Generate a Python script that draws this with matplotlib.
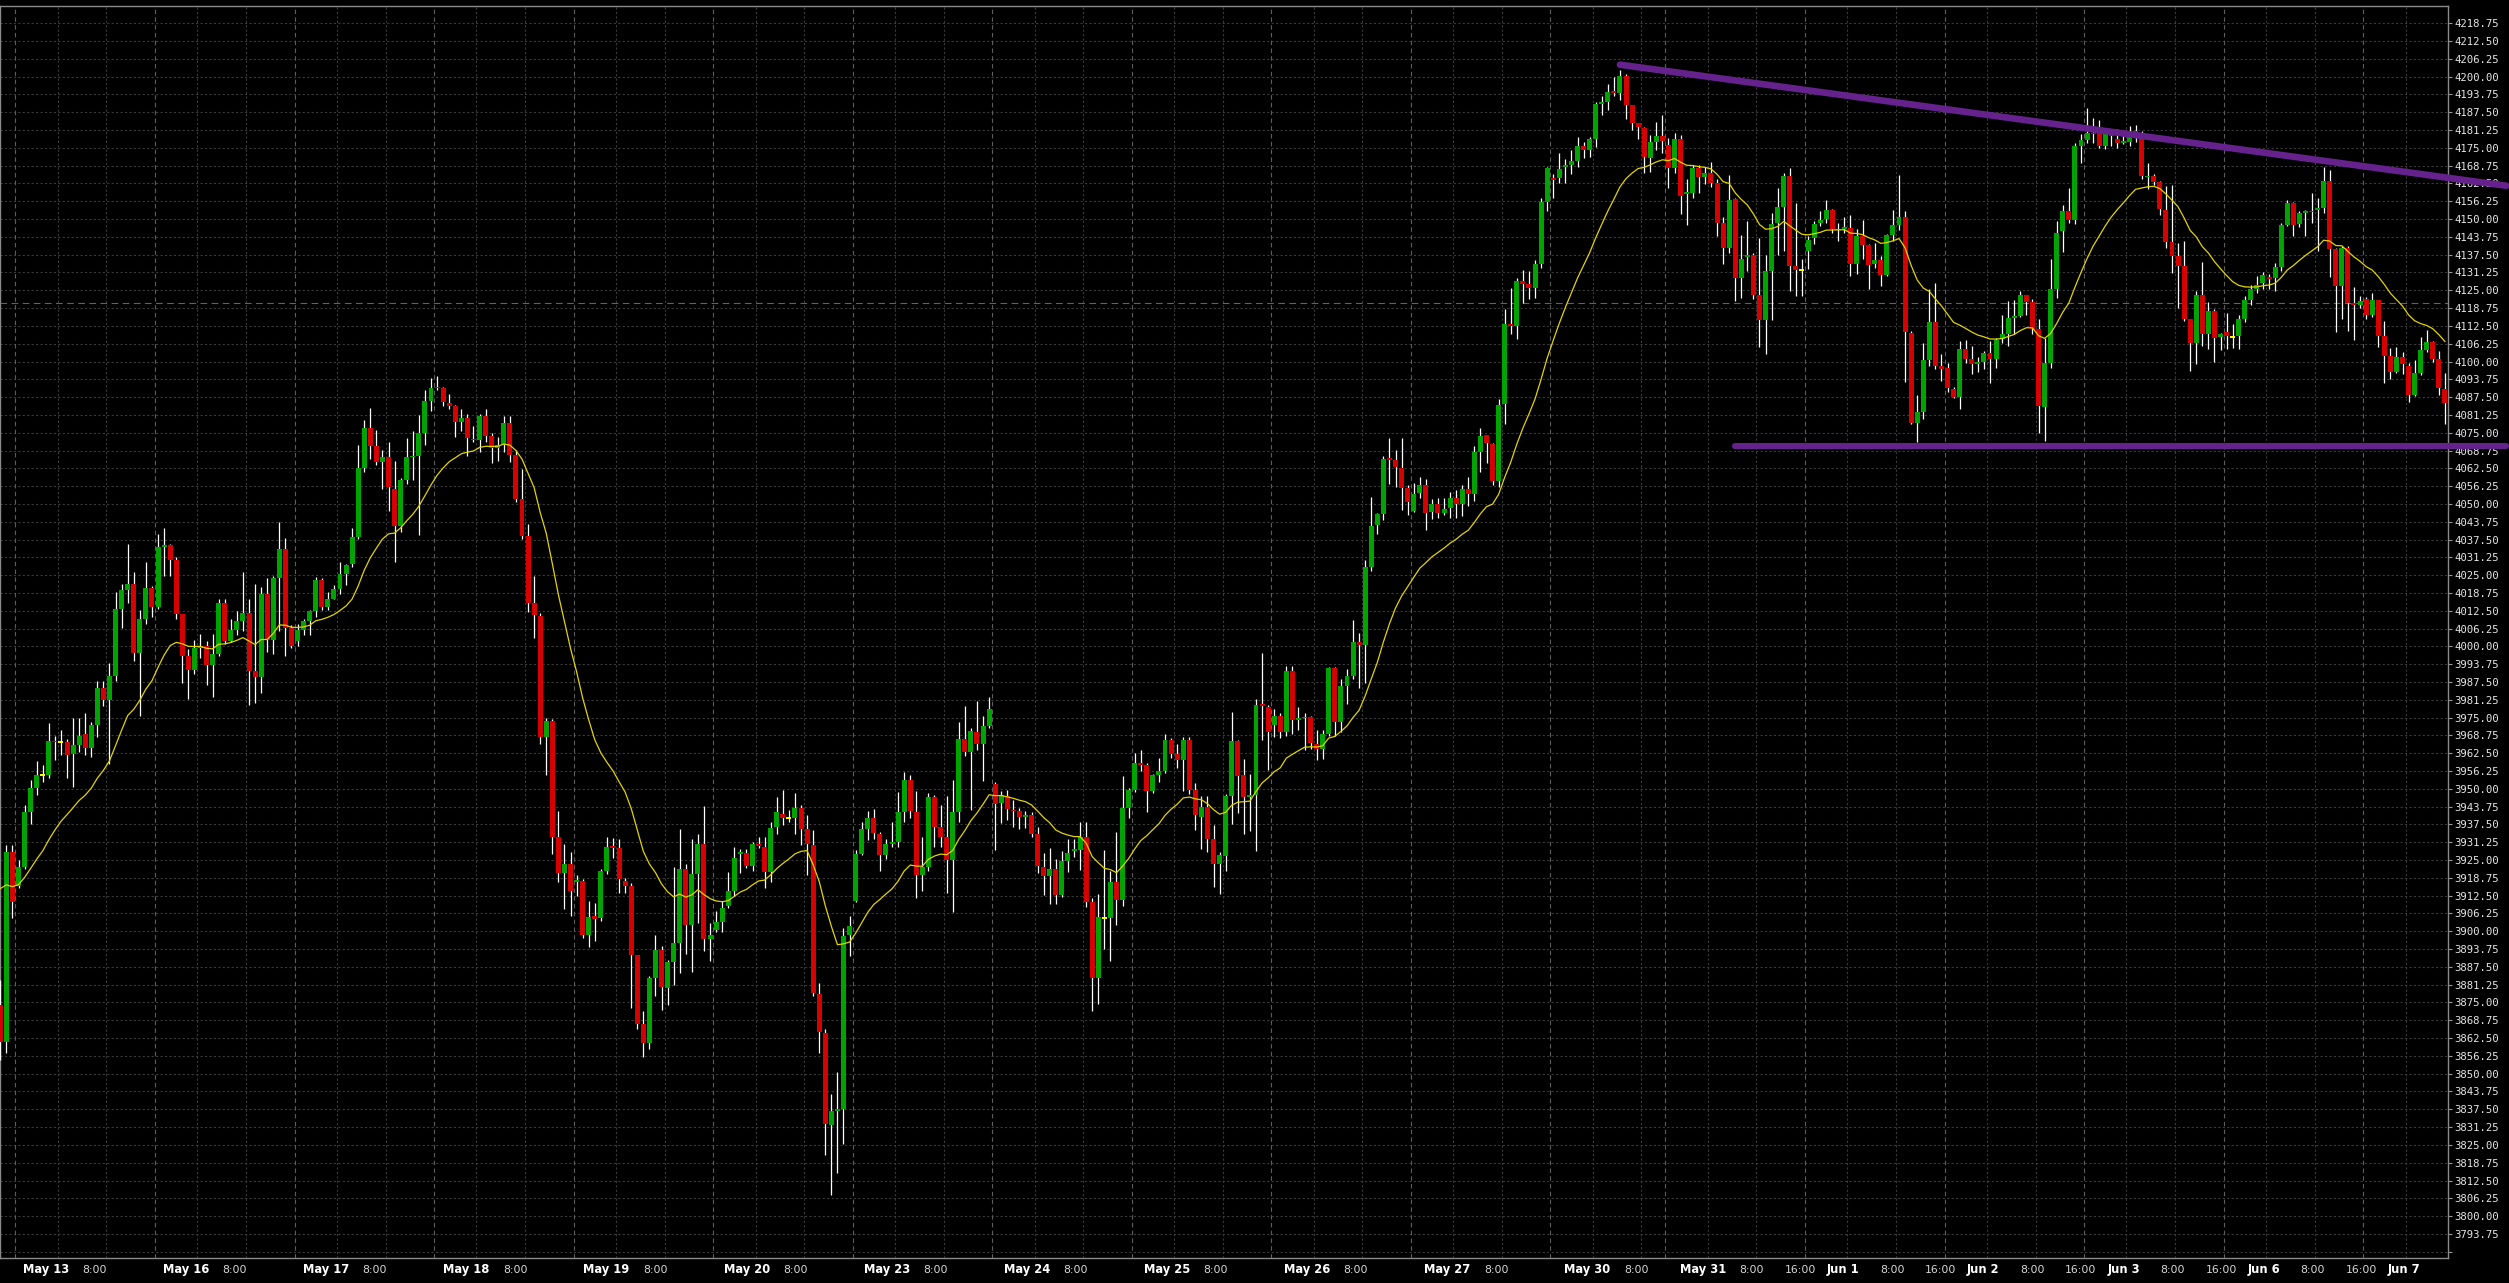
import numpy as np
import matplotlib.pyplot as plt

# hourly ES bars (May 12 evening .. Jun 7)
opens = [
    3874.1, 3861.2, 3927.8, 3916.0, 3922.5, 3941.8, 3950.4, 3954.7, 3954.7, 3966.8,
    3966.3, 3966.3, 3962.3, 3965.5, 3969.2, 3964.4, 3972.5, 3985.3, 3981.3, 3989.7,
    4013.1, 4019.7, 4021.9, 3997.7, 4009.5, 4020.5, 4014.0, 4035.0, 4035.6, 4030.5,
    4011.5, 3996.6, 3991.8, 3999.4, 4000.3, 3993.4, 3997.4, 4015.2, 4002.0, 4005.8,
    4009.0, 4011.6, 3991.3, 3989.4, 4018.4, 4002.3, 4024.0, 4034.2, 4006.6, 4002.0,
    4005.8, 4009.0, 4012.3, 4023.2, 4013.9, 4016.8, 4020.0, 4025.5, 4028.9, 4038.5,
    4062.5, 4076.7, 4070.4, 4064.8, 4066.4, 4055.4, 4042.2, 4058.3, 4066.4, 4066.7,
    4074.8, 4086.1, 4091.2, 4090.6, 4085.3, 4084.5, 4078.8, 4080.3, 4072.9, 4072.4,
    4080.9, 4074.0, 4069.6, 4070.6, 4078.4, 4067.1, 4051.8, 4038.7, 4015.2, 4010.8,
    3968.3, 3973.9, 3933.2, 3920.4, 3923.6, 3917.3, 3917.8, 3898.7, 3905.4, 3904.5,
    3921.3, 3930.0, 3929.3, 3917.8, 3916.0, 3891.6, 3867.3, 3860.6, 3883.6, 3893.4,
    3880.1, 3889.3, 3896.0, 3921.9, 3902.2, 3920.1, 3930.7, 3897.4, 3900.4, 3903.3,
    3908.8, 3914.1, 3927.2, 3927.5, 3923.0, 3930.7, 3929.7, 3920.8, 3936.7, 3941.3,
    3939.8, 3939.9, 3943.1, 3936.0, 3930.2, 3878.0, 3864.2, 3831.9, 3836.9, 3837.6,
    3898.8, 3910.7, 3927.2, 3936.0, 3939.6, 3934.3, 3926.7, 3930.7, 3931.4, 3941.7,
    3953.2, 3941.7, 3919.6, 3922.6, 3947.0, 3936.7, 3933.2, 3924.9, 3941.7, 3967.4,
    3962.9, 3970.0, 3965.6, 3972.2, 3951.8, 3945.1, 3947.6, 3942.7, 3942.3, 3940.0,
    3940.7, 3934.0, 3922.4, 3919.4, 3921.7, 3912.6, 3924.7, 3928.2, 3928.5, 3933.0,
    3910.1, 3883.5, 3904.6, 3904.6, 3917.4, 3910.8, 3943.4, 3949.7, 3959.0, 3958.4,
    3949.3, 3954.8, 3956.2, 3967.3, 3962.2, 3960.1, 3967.0, 3949.7, 3940.0, 3943.7,
    3932.3, 3923.7, 3926.5, 3947.6, 3966.8, 3954.8, 3947.2, 3947.9, 3979.5, 3978.8,
    3972.3, 3975.4, 3969.8, 3991.3, 3974.3, 3974.8, 3975.1, 3965.9, 3964.0, 3969.1,
    3992.3, 3973.3, 3986.2, 3989.5, 4001.7, 4000.4, 4027.8, 4042.7, 4046.6, 4065.9,
    4065.3, 4062.5, 4055.6, 4047.5, 4053.8, 4056.6, 4047.3, 4050.0, 4046.8, 4048.6,
    4052.0, 4050.0, 4055.2, 4053.5, 4068.3, 4074.1, 4071.1, 4057.9, 4085.1, 4113.0,
    4112.5, 4128.2, 4127.3, 4125.9, 4134.3, 4156.1, 4164.4, 4164.4, 4168.4, 4168.9,
    4170.5, 4175.7, 4174.1, 4178.0, 4190.5, 4191.1, 4194.9, 4194.4, 4200.3, 4190.2,
    4183.6, 4181.8, 4171.3, 4177.1, 4179.2, 4175.9, 4167.9, 4178.0, 4158.8, 4159.3,
    4167.8, 4164.9, 4166.1, 4162.6, 4148.8, 4139.9, 4157.0, 4129.4, 4136.6, 4137.5,
    4123.5, 4114.6, 4131.7, 4148.6, 4154.4, 4165.2, 4133.4, 4132.0, 4138.7, 4143.4,
    4148.6, 4150.0, 4153.2, 4146.0, 4146.5, 4146.9, 4134.3, 4143.9, 4140.8, 4134.3,
    4135.7, 4130.5, 4144.4, 4147.8, 4150.6, 4109.9, 4078.4, 4082.3, 4100.6, 4113.7,
    4098.5, 4097.6, 4090.3, 4087.7, 4104.3, 4101.0, 4099.3, 4099.8, 4103.1, 4101.0,
    4108.0, 4109.8, 4115.3, 4115.9, 4123.2, 4120.8, 4111.5, 4084.1, 4099.6, 4125.5,
    4145.8, 4152.8, 4149.6, 4175.8, 4177.9, 4180.3, 4180.3, 4175.8, 4179.7, 4178.2,
    4176.8, 4177.0, 4180.9, 4180.3, 4164.7, 4165.1, 4163.0, 4153.1, 4141.9, 4137.0,
    4133.5, 4115.0, 4106.6, 4123.5, 4109.5, 4117.7, 4108.7, 4110.3, 4108.6, 4108.9,
    4115.0, 4121.5, 4125.5, 4127.4, 4129.7, 4129.4, 4133.2, 4147.8, 4155.5, 4148.1,
    4152.0, 4152.8, 4153.1, 4154.0, 4163.3, 4139.6, 4126.5, 4139.9, 4120.6, 4119.7,
    4121.8, 4116.5, 4121.5, 4109.1, 4101.9, 4096.3, 4101.7, 4098.6, 4088.4, 4095.8,
    4104.2, 4106.8, 4101.0, 4090.4,
]

highs = [
    3883.0, 3930.2, 3930.2, 3924.9, 3944.2, 3953.1, 3959.6, 3958.4, 3973.0, 3968.4,
    3970.8, 3967.6, 3974.9, 3974.9, 3976.5, 3973.3, 3987.8, 3987.8, 3994.2, 4019.2,
    4021.9, 4035.8, 4026.1, 4012.7, 4029.7, 4021.3, 4039.3, 4041.7, 4036.1, 4031.3,
    4011.5, 3999.0, 4002.3, 4004.2, 4002.0, 4004.2, 4016.8, 4016.8, 4009.5, 4012.3,
    4026.1, 4016.8, 4021.9, 4020.8, 4024.0, 4024.8, 4043.8, 4038.0, 4007.4, 4007.9,
    4009.5, 4012.7, 4024.5, 4024.0, 4019.2, 4021.6, 4029.7, 4028.9, 4041.7, 4070.8,
    4079.6, 4083.6, 4076.1, 4069.1, 4071.9, 4065.1, 4059.0, 4073.2, 4075.6, 4081.2,
    4090.1, 4094.1, 4094.9, 4091.2, 4088.5, 4084.8, 4083.2, 4081.6, 4077.2, 4081.6,
    4083.2, 4074.8, 4073.5, 4081.0, 4081.0, 4068.8, 4062.1, 4043.0, 4024.6, 4011.6,
    3975.0, 3974.5, 3942.1, 3930.7, 3927.9, 3919.6, 3918.3, 3910.7, 3909.8, 3921.9,
    3933.2, 3932.9, 3932.5, 3918.7, 3916.9, 3891.6, 3872.1, 3884.2, 3898.7, 3894.8,
    3889.8, 3922.6, 3936.0, 3923.6, 3932.5, 3934.3, 3943.8, 3902.8, 3907.2, 3910.7,
    3920.8, 3929.7, 3929.0, 3929.0, 3931.4, 3933.2, 3933.2, 3938.2, 3947.0, 3949.7,
    3942.6, 3948.4, 3944.3, 3940.8, 3935.5, 3881.9, 3865.6, 3842.9, 3850.5, 3901.3,
    3905.4, 3928.4, 3938.2, 3942.1, 3942.9, 3935.0, 3932.5, 3938.5, 3948.8, 3955.9,
    3955.0, 3949.1, 3933.2, 3948.4, 3947.9, 3944.3, 3947.4, 3953.2, 3973.6, 3978.9,
    3971.4, 3980.7, 3975.7, 3982.4, 3952.5, 3949.3, 3949.7, 3946.2, 3943.2, 3942.1,
    3941.8, 3936.5, 3927.5, 3929.2, 3925.4, 3928.2, 3932.3, 3932.3, 3938.2, 3938.2,
    3911.8, 3913.2, 3928.5, 3921.2, 3934.7, 3954.5, 3950.4, 3962.6, 3963.6, 3959.0,
    3955.2, 3960.8, 3969.1, 3967.7, 3965.6, 3968.1, 3968.1, 3952.1, 3947.6, 3947.6,
    3937.2, 3927.9, 3948.3, 3977.0, 3967.3, 3960.4, 3955.2, 3981.6, 3997.6, 3979.5,
    3977.9, 3976.7, 3993.1, 3993.1, 3978.8, 3976.7, 3975.6, 3970.5, 3970.5, 3992.7,
    3992.7, 3988.6, 3992.0, 4009.4, 4004.8, 4030.2, 4052.4, 4046.8, 4066.7, 4073.2,
    4069.0, 4073.2, 4056.6, 4057.5, 4059.3, 4058.9, 4051.7, 4052.0, 4052.0, 4054.2,
    4054.8, 4056.6, 4059.3, 4070.5, 4076.7, 4074.1, 4071.5, 4086.8, 4118.6, 4125.9,
    4129.4, 4132.2, 4131.7, 4135.7, 4157.3, 4168.4, 4165.7, 4173.1, 4171.0, 4174.1,
    4178.8, 4177.1, 4178.8, 4191.1, 4193.3, 4197.5, 4199.8, 4202.4, 4201.0, 4190.2,
    4183.6, 4182.3, 4179.4, 4184.1, 4186.7, 4178.3, 4180.1, 4179.4, 4164.0, 4168.9,
    4168.9, 4168.4, 4170.1, 4164.0, 4150.9, 4165.4, 4157.3, 4144.4, 4149.2, 4138.2,
    4143.4, 4137.5, 4152.1, 4160.9, 4166.1, 4167.8, 4155.6, 4136.1, 4143.9, 4149.2,
    4152.7, 4156.7, 4153.5, 4148.6, 4150.9, 4151.4, 4146.5, 4149.7, 4141.3, 4141.6,
    4137.0, 4144.8, 4153.2, 4165.4, 4152.7, 4110.7, 4088.1, 4106.4, 4125.6, 4127.7,
    4102.5, 4099.4, 4091.0, 4107.3, 4107.5, 4105.4, 4101.7, 4103.6, 4107.2, 4108.3,
    4116.2, 4121.2, 4121.5, 4124.7, 4123.5, 4121.8, 4115.0, 4108.3, 4136.1, 4149.3,
    4154.8, 4161.0, 4176.8, 4179.7, 4189.1, 4185.5, 4184.7, 4181.5, 4181.5, 4181.7,
    4181.2, 4182.6, 4183.2, 4180.9, 4169.8, 4165.7, 4163.3, 4161.6, 4161.8, 4141.7,
    4142.3, 4115.0, 4124.7, 4134.9, 4120.8, 4118.5, 4110.1, 4117.1, 4113.0, 4116.5,
    4123.0, 4126.7, 4130.0, 4131.4, 4130.6, 4134.7, 4148.5, 4156.6, 4155.9, 4152.8,
    4153.1, 4159.2, 4157.5, 4168.3, 4167.2, 4139.9, 4140.5, 4140.5, 4126.2, 4123.0,
    4122.7, 4124.1, 4121.5, 4114.2, 4104.8, 4105.2, 4103.3, 4099.5, 4100.7, 4108.7,
    4111.0, 4107.2, 4103.6, 4095.8,
]

lows = [
    3854.8, 3857.2, 3904.8, 3915.2, 3922.0, 3937.5, 3947.8, 3952.3, 3953.9, 3960.0,
    3962.0, 3953.9, 3950.7, 3962.8, 3961.7, 3961.2, 3968.1, 3978.9, 3958.8, 3987.8,
    4006.3, 4015.2, 3995.0, 3975.7, 4007.9, 4010.3, 4013.0, 4024.8, 4024.8, 4009.5,
    3987.0, 3981.6, 3990.2, 3995.8, 3986.5, 3982.1, 3996.6, 4000.7, 4001.5, 4003.9,
    4005.5, 3979.4, 3980.0, 3983.7, 3998.2, 3997.4, 4005.5, 3996.6, 3999.4, 4000.3,
    4003.9, 4003.9, 4010.3, 4012.7, 4012.7, 4016.8, 4018.4, 4021.6, 4028.0, 4037.7,
    4061.1, 4065.9, 4063.5, 4055.1, 4047.7, 4029.7, 4040.1, 4057.1, 4058.3, 4039.0,
    4070.8, 4082.5, 4090.1, 4084.5, 4083.2, 4073.5, 4075.6, 4066.7, 4071.6, 4068.3,
    4071.6, 4064.3, 4065.1, 4068.3, 4064.8, 4050.6, 4037.7, 4012.2, 4002.8, 3965.6,
    3955.0, 3927.2, 3917.3, 3907.7, 3905.4, 3912.5, 3897.8, 3894.3, 3896.6, 3903.6,
    3920.1, 3925.8, 3913.4, 3913.4, 3873.0, 3865.6, 3855.8, 3858.5, 3877.1, 3872.3,
    3874.1, 3881.2, 3885.4, 3892.1, 3885.6, 3902.8, 3893.0, 3889.5, 3899.6, 3899.6,
    3908.1, 3912.5, 3920.4, 3922.2, 3921.3, 3929.3, 3915.1, 3917.3, 3934.3, 3937.3,
    3938.5, 3934.3, 3930.2, 3919.6, 3877.1, 3857.1, 3821.3, 3807.5, 3815.1, 3825.2,
    3891.2, 3910.2, 3926.7, 3932.0, 3932.5, 3921.3, 3925.4, 3929.7, 3929.7, 3938.5,
    3939.9, 3911.6, 3914.3, 3921.3, 3929.7, 3929.7, 3913.4, 3906.6, 3938.2, 3961.5,
    3942.6, 3963.8, 3952.7, 3971.5, 3928.5, 3937.9, 3938.9, 3936.5, 3935.8, 3936.2,
    3933.0, 3920.5, 3912.9, 3909.4, 3909.4, 3912.2, 3920.9, 3926.1, 3921.5, 3908.5,
    3872.0, 3874.3, 3893.8, 3889.6, 3902.1, 3909.0, 3939.6, 3949.0, 3956.2, 3941.8,
    3948.7, 3952.5, 3955.7, 3960.8, 3957.3, 3949.3, 3948.3, 3935.4, 3928.9, 3927.9,
    3915.4, 3913.2, 3921.2, 3937.6, 3941.4, 3934.0, 3935.1, 3928.2, 3967.0, 3956.6,
    3968.1, 3967.7, 3968.7, 3969.1, 3970.5, 3963.6, 3964.0, 3960.1, 3960.4, 3968.4,
    3968.4, 3969.8, 3979.8, 3988.6, 3985.4, 3987.2, 4026.4, 4039.5, 4044.5, 4057.0,
    4056.1, 4047.8, 4046.1, 4047.3, 4052.0, 4040.9, 4044.8, 4045.0, 4046.1, 4045.0,
    4045.0, 4045.9, 4049.2, 4051.2, 4061.3, 4064.5, 4056.6, 4056.1, 4078.1, 4109.5,
    4107.8, 4120.7, 4121.8, 4122.4, 4132.9, 4152.7, 4157.3, 4162.6, 4162.6, 4165.7,
    4168.4, 4171.3, 4171.9, 4175.3, 4186.7, 4188.4, 4193.3, 4191.9, 4185.3, 4181.1,
    4178.0, 4166.1, 4166.6, 4174.1, 4173.1, 4160.9, 4166.1, 4151.8, 4147.9, 4157.3,
    4159.1, 4162.3, 4161.4, 4143.9, 4134.3, 4138.2, 4121.2, 4122.4, 4131.7, 4122.1,
    4105.0, 4102.5, 4114.7, 4137.5, 4138.7, 4124.7, 4123.0, 4123.0, 4132.6, 4141.3,
    4147.4, 4148.6, 4145.1, 4142.2, 4145.1, 4130.0, 4130.8, 4136.1, 4125.6, 4132.9,
    4126.5, 4130.0, 4142.2, 4146.2, 4092.8, 4078.1, 4071.8, 4079.8, 4098.5, 4097.3,
    4093.3, 4089.3, 4087.2, 4083.3, 4099.6, 4095.5, 4096.3, 4097.2, 4092.3, 4097.8,
    4106.6, 4105.6, 4109.5, 4115.7, 4116.5, 4109.8, 4075.0, 4072.1, 4097.8, 4122.4,
    4138.4, 4148.5, 4148.1, 4169.8, 4176.8, 4176.8, 4175.0, 4174.7, 4175.6, 4175.0,
    4176.2, 4175.8, 4177.0, 4164.1, 4160.6, 4161.8, 4151.6, 4139.9, 4131.1, 4118.9,
    4114.2, 4096.6, 4099.0, 4105.4, 4104.5, 4099.8, 4104.2, 4104.5, 4104.8, 4104.5,
    4113.8, 4119.7, 4124.1, 4125.5, 4125.5, 4124.7, 4131.7, 4147.5, 4144.2, 4147.3,
    4144.0, 4148.5, 4138.7, 4152.2, 4129.7, 4110.3, 4115.0, 4110.7, 4107.5, 4118.9,
    4115.0, 4115.7, 4105.2, 4092.3, 4093.9, 4096.0, 4095.5, 4085.7, 4087.9, 4095.1,
    4103.3, 4099.8, 4088.1, 4077.9,
]

closes = [
    3861.2, 3927.8, 3910.1, 3922.5, 3941.8, 3950.4, 3954.7, 3954.7, 3966.8, 3966.3,
    3966.3, 3962.0, 3965.5, 3968.7, 3964.4, 3972.5, 3985.3, 3981.3, 3989.7, 4013.1,
    4019.7, 4021.9, 3997.7, 4009.5, 4020.5, 4014.0, 4035.0, 4035.6, 4030.5, 4011.5,
    3996.6, 3991.8, 3999.4, 4000.3, 3993.4, 3997.4, 4015.2, 4002.0, 4005.8, 4009.0,
    4011.6, 3991.3, 3989.4, 4018.4, 4002.3, 4024.0, 4034.2, 4006.6, 4000.3, 4005.8,
    4009.0, 4012.3, 4023.2, 4013.9, 4016.8, 4020.0, 4025.5, 4028.4, 4038.5, 4062.5,
    4076.7, 4070.4, 4064.8, 4066.4, 4055.9, 4042.2, 4058.3, 4066.4, 4066.7, 4074.8,
    4086.1, 4090.6, 4090.6, 4085.7, 4084.5, 4078.8, 4080.3, 4073.2, 4072.4, 4080.9,
    4074.0, 4069.6, 4070.6, 4078.4, 4067.1, 4051.8, 4038.7, 4015.2, 4011.1, 3968.3,
    3973.9, 3933.2, 3920.4, 3923.6, 3914.3, 3917.8, 3898.7, 3905.0, 3904.2, 3921.3,
    3929.7, 3929.3, 3918.2, 3916.0, 3891.8, 3867.3, 3860.6, 3883.6, 3893.4, 3880.6,
    3889.3, 3896.0, 3921.9, 3902.2, 3920.1, 3930.7, 3897.4, 3898.7, 3903.3, 3908.1,
    3914.1, 3925.8, 3927.5, 3923.0, 3930.7, 3929.8, 3920.8, 3936.4, 3941.7, 3939.9,
    3939.8, 3943.1, 3936.0, 3930.7, 3878.3, 3864.7, 3832.3, 3836.9, 3837.2, 3898.3,
    3901.9, 3927.2, 3936.0, 3939.6, 3934.6, 3926.7, 3930.5, 3931.1, 3941.7, 3953.2,
    3942.1, 3919.6, 3922.6, 3947.0, 3936.7, 3933.2, 3924.9, 3941.7, 3967.4, 3962.9,
    3970.4, 3965.6, 3972.2, 3978.0, 3944.8, 3947.9, 3943.0, 3942.1, 3940.0, 3940.9,
    3934.0, 3922.9, 3919.4, 3921.7, 3912.6, 3924.7, 3927.5, 3928.5, 3933.0, 3910.4,
    3883.5, 3904.9, 3904.6, 3917.4, 3910.8, 3943.2, 3949.7, 3959.0, 3958.4, 3949.3,
    3954.8, 3956.2, 3967.3, 3962.2, 3960.1, 3967.0, 3949.7, 3940.7, 3943.7, 3932.3,
    3923.7, 3926.8, 3947.6, 3966.8, 3954.5, 3947.2, 3947.6, 3979.5, 3979.1, 3969.8,
    3975.4, 3969.8, 3991.3, 3974.3, 3974.9, 3975.2, 3966.2, 3964.0, 3969.1, 3992.3,
    3973.3, 3986.2, 3989.5, 4001.7, 4000.4, 4027.8, 4042.3, 4046.6, 4065.9, 4065.6,
    4063.1, 4055.6, 4050.6, 4053.5, 4056.6, 4046.8, 4050.0, 4046.8, 4048.1, 4052.0,
    4050.0, 4055.2, 4053.4, 4068.3, 4073.7, 4071.5, 4057.9, 4084.6, 4113.0, 4112.5,
    4128.2, 4127.3, 4125.9, 4134.3, 4156.1, 4167.8, 4163.6, 4167.5, 4168.9, 4170.5,
    4175.7, 4174.1, 4178.0, 4190.5, 4191.1, 4194.6, 4194.4, 4200.3, 4190.2, 4183.6,
    4182.2, 4171.9, 4177.1, 4179.2, 4177.4, 4167.9, 4178.0, 4158.2, 4159.3, 4168.0,
    4164.9, 4166.1, 4162.6, 4148.8, 4139.9, 4156.7, 4129.4, 4136.1, 4137.5, 4123.5,
    4114.6, 4131.7, 4148.3, 4154.4, 4165.2, 4133.4, 4132.2, 4132.0, 4142.7, 4148.3,
    4149.7, 4153.2, 4146.5, 4146.5, 4146.9, 4134.3, 4143.9, 4140.8, 4133.8, 4135.7,
    4130.5, 4144.4, 4147.8, 4150.6, 4110.2, 4078.4, 4082.3, 4100.6, 4113.7, 4098.5,
    4097.3, 4090.7, 4087.7, 4104.3, 4100.8, 4099.0, 4099.8, 4103.1, 4101.0, 4107.7,
    4109.8, 4115.3, 4115.9, 4123.2, 4120.8, 4111.5, 4084.3, 4099.6, 4125.3, 4145.2,
    4152.8, 4149.6, 4175.8, 4177.9, 4180.3, 4179.7, 4175.8, 4179.7, 4179.1, 4176.8,
    4177.0, 4180.9, 4180.3, 4165.1, 4165.1, 4163.0, 4153.4, 4141.9, 4137.0, 4133.5,
    4115.0, 4106.6, 4123.5, 4109.5, 4117.7, 4108.3, 4109.8, 4108.9, 4108.6, 4115.0,
    4121.5, 4125.3, 4127.0, 4130.2, 4129.0, 4133.2, 4147.8, 4155.5, 4147.8, 4152.0,
    4152.8, 4152.4, 4154.0, 4163.3, 4139.6, 4126.5, 4139.9, 4120.6, 4119.7, 4121.2,
    4116.5, 4121.5, 4109.1, 4102.1, 4096.3, 4101.7, 4099.0, 4088.4, 4095.8, 4104.2,
    4106.8, 4101.0, 4090.8, 4085.5,
]

# session layout: 3 bars left of May 12 evening, then one session per day
pre_bars = 3
session_lengths = [23] * 11 + [19] + [23] * 5 + [14]
session_labels = ["May 13", "May 16", "May 17", "May 18", "May 19", "May 20",
                  "May 23", "May 24", "May 25", "May 26", "May 27", "May 30",
                  "May 31", "Jun 1", "Jun 2", "Jun 3", "Jun 6", "Jun 7"]
show_1600 = [False] * 12 + [True] * 5 + [False]

# moving average (EMA) value at the first bar
ma_start = 3915.0
ma_alpha = 0.1

# drawn trendlines (bar index, price)
trend_x = [267.0, 413.1]
trend_y = [4204.2, 4161.7]
support_x = [286.0, 413.1]
support_y = [4070.2, 4070.2]
ref_level = 4120.5

GREEN = "#00a400"
RED = "#d60000"
PURPLE = "#65228d"

n = min(len(opens), len(highs), len(lows), len(closes))
o = np.array(opens[:n])
h = np.array(highs[:n])
l = np.array(lows[:n])
c = np.array(closes[:n])
x = np.arange(n)

fig = plt.figure(figsize=(25.09, 12.83), dpi=100, facecolor="black")
ax = fig.add_axes([0, 25 / 1283, 2448 / 2509, 1252 / 1283], facecolor="black")

# =========================
# GRID
# =========================
yt = np.arange(3787.5, 4219.0, 6.25)
for yv in yt:
    ax.axhline(yv, color="#3a3a3a", lw=0.8, ls=(0, (2, 2)), zorder=1)

starts = pre_bars + np.concatenate([[0], np.cumsum(session_lengths)[:-1]])
for s in starts:
    ax.axvline(s - 0.5, color="#5e5e5e", lw=0.8, ls=(0, (4, 3)), zorder=1)
    for off in (6.5, 14.5):
        if s + off < n:
            ax.axvline(s + off, color="#3a3a3a", lw=0.8, ls=(0, (2, 2)), zorder=1)

ax.axhline(ref_level, color="#626262", lw=0.8, ls=(0, (6, 4)), zorder=1)

# =========================
# CANDLES
# =========================
ax.vlines(x, l, h, color="white", lw=0.9, zorder=3)

up = c > o
dn = c < o
flat = c == o
ax.bar(x[up], np.maximum(c - o, 0.55)[up], bottom=o[up], width=0.82,
       color=GREEN, linewidth=0, zorder=4)
ax.bar(x[dn], np.maximum(o - c, 0.55)[dn], bottom=c[dn], width=0.82,
       color=RED, linewidth=0, zorder=4)
ax.hlines(c[flat], x[flat] - 0.41, x[flat] + 0.41, color="#ffff00", lw=1.4, zorder=5)

# EMA of closes
ma = [ma_start]
for v in c[1:]:
    ma.append(ma[-1] + ma_alpha * (v - ma[-1]))
ax.plot(x, ma, color="#e2d400", lw=0.9, zorder=6)

# trendlines run over the price scale, as in the original
ax.plot(trend_x, trend_y, color=PURPLE, lw=4.8, solid_capstyle="round",
        clip_on=False, zorder=7)
ax.plot(support_x, support_y, color=PURPLE, lw=4.4, solid_capstyle="round",
        clip_on=False, zorder=7)

# =========================
# AXES
# =========================
ax.set_xlim(-0.05, 403.5)
ax.set_ylim(3785.3, 4224.8)

ax.yaxis.tick_right()
ax.set_yticks(yt)
ax.set_yticklabels(["" if v < 3790 else f"{v:.2f}" for v in yt])
ax.tick_params(axis="y", colors="#9a9a9a", length=3, width=0.8, pad=1.5,
               labelcolor="#e6e6e6", labelsize=7.7)
for lab in ax.get_yticklabels():
    lab.set_fontfamily("DejaVu Sans Mono")
ax.set_xticks([])

for sp in ax.spines.values():
    sp.set_color("#8a8a8a")
    sp.set_linewidth(1.0)


# label anchors sit a little left of their grid line and spread slightly wider
def label_pos(g):
    return 1.0044 * g - 2.02


tr = ax.get_xaxis_transform()
ylab = -12 / 1252
for s, name, s16 in zip(starts, session_labels, show_1600):
    ax.text(label_pos(s + 6.5), ylab, name, transform=tr, ha="center", va="center",
            color="white", fontsize=8.3, fontweight="bold", clip_on=False)
    if s + 14.5 < n:
        ax.text(label_pos(s + 14.5), ylab, "8:00", transform=tr, ha="center",
                va="center", color="#d8d8d8", fontsize=7.8, clip_on=False)
    if s16:
        ax.text(label_pos(s + 22.5), ylab, "16:00", transform=tr, ha="center",
                va="center", color="#d8d8d8", fontsize=7.8, clip_on=False)

fig.savefig("out.png", dpi=100, facecolor="black")
print("saved out.png")
